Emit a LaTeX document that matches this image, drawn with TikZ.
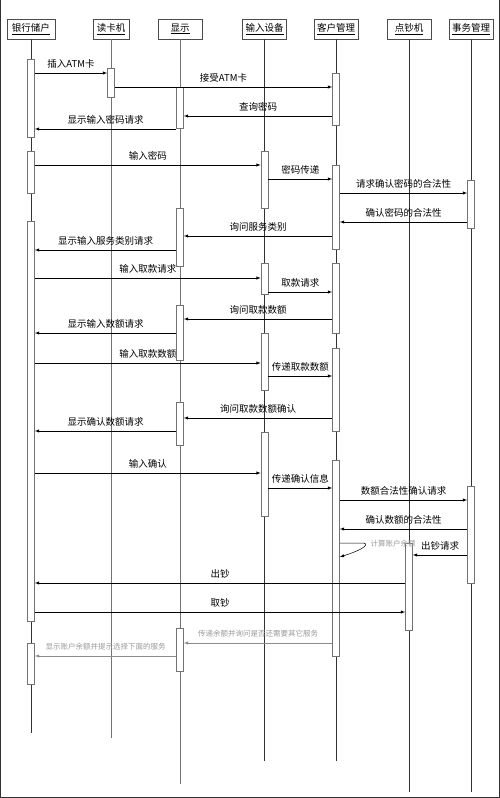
\documentclass[tikz,border=0pt]{standalone}
\usepackage{fontspec}
\setmainfont{Noto Sans CJK SC}
\usetikzlibrary{arrows}

\begin{document}
\begin{tikzpicture}[x=1pt,y=-1pt,
	actor/.style={draw=black!70,fill=white,minimum width=44,minimum height=20,inner xsep=3pt,font=\fontsize{9.5}{11}\selectfont},
	act/.style={draw=black!55,fill=white,minimum width=7,inner sep=0pt,line width=0.6pt},
	life/.style={black!80,line width=0.6pt},
	msg/.style={-latex,line width=0.5pt},
	lbl/.style={midway,above=1.5pt,font=\fontsize{9.5}{11}\selectfont},
	faint/.style={black!40,font=\fontsize{7.5}{9}\selectfont}]
	\useasboundingbox (0,0) rectangle (500,798);
	\draw[black!80,line width=1.2pt] (0.6,0) -- (0.6,797.4) -- (499.4,797.4) -- (499.4,0);

	\node[actor,minimum width=48] (cust) at (31,29) {\underline{银行储户}};
	\node[actor,minimum width=36] (reader) at (111,29) {\underline{读卡机}};
	\node[actor] (disp) at (180,29) {\underline{显示}};
	\node[actor] (input) at (264.5,29) {\underline{输入设备}};
	\node[actor] (mgr) at (336,29) {\underline{客户管理}};
	\node[actor] (cash) at (409,29) {\underline{点钞机}};
	\node[actor] (trans) at (471,29) {\underline{事务管理}};

	\draw[life] (cust) -- (cust |- 0,733);
	\draw[life,black!55] (reader) -- (reader |- 0,738);
	\draw[life,black!55] (disp) -- (disp |- 0,784);
	\draw[life] (input) -- (input |- 0,761);
	\draw[life] (mgr) -- (mgr |- 0,761);
	\draw[life] (cash) -- (cash |- 0,792);
	\draw[life] (trans) -- (trans |- 0,792);

	\node[act,minimum height=78] (c1) at (cust |- 0,98) {};
	\node[act,minimum height=42] (c2) at (cust |- 0,172) {};
	\node[act,minimum height=400] (c3) at (cust |- 0,421) {};
	\node[act,minimum height=41] (c4) at (cust |- 0,663.5) {};
	\node[act,minimum height=29] (r1) at (reader |- 0,82.5) {};
	\node[act,minimum height=41] (d1) at (disp |- 0,107.5) {};
	\node[act,minimum height=58] (d2) at (disp |- 0,237) {};
	\node[act,minimum height=55] (d3) at (disp |- 0,332.5) {};
	\node[act,minimum height=43] (d4) at (disp |- 0,423.5) {};
	\node[act,minimum height=43] (d5) at (disp |- 0,649.5) {};
	\node[act,minimum height=57] (i1) at (input |- 0,179.5) {};
	\node[act,minimum height=31] (i2) at (input |- 0,278.5) {};
	\node[act,minimum height=57] (i3) at (input |- 0,361.5) {};
	\node[act,minimum height=84] (i4) at (input |- 0,474) {};
	\node[act,minimum height=52] (m1) at (mgr |- 0,99) {};
	\node[act,minimum height=84] (m2) at (mgr |- 0,207) {};
	\node[act,minimum height=70] (m3) at (mgr |- 0,298) {};
	\node[act,minimum height=83] (m4) at (mgr |- 0,389.5) {};
	\node[act,minimum height=196] (m5) at (mgr |- 0,558) {};
	\node[act,minimum height=87] (k1) at (cash |- 0,586.5) {};
	\node[act,minimum height=48] (t1) at (trans |- 0,204) {};
	\node[act,minimum height=97] (t2) at (trans |- 0,534.5) {};

	\draw[msg] (c1.east |- 0,73) -- node[lbl] {插入ATM卡} (r1.west |- 0,73);
	\draw[msg] (r1.east |- 0,87) -- node[lbl] {接受ATM卡} (m1.west |- 0,87);
	\draw[msg] (m1.west |- 0,116) -- node[lbl] {查询密码} (d1.east |- 0,116);
	\draw[msg] (d1.west |- 0,129) -- node[lbl] {显示输入密码请求} (c1.east |- 0,129);
	\draw[msg] (c2.east |- 0,165) -- node[lbl] {输入密码} (i1.west |- 0,165);
	\draw[msg] (i1.east |- 0,179) -- node[lbl] {密码传递} (m2.west |- 0,179);
	\draw[msg] (m2.east |- 0,193) -- node[lbl] {请求确认密码的合法性} (t1.west |- 0,193);
	\draw[msg] (t1.west |- 0,222) -- node[lbl] {确认密码的合法性} (m2.east |- 0,222);
	\draw[msg] (m2.west |- 0,236) -- node[lbl] {询问服务类别} (d2.east |- 0,236);
	\draw[msg] (d2.west |- 0,250) -- node[lbl] {显示输入服务类别请求} (c3.east |- 0,250);
	\draw[msg] (c3.east |- 0,278) -- node[lbl] {输入取款请求} (i2.west |- 0,278);
	\draw[msg] (i2.east |- 0,292) -- node[lbl] {取款请求} (m3.west |- 0,292);
	\draw[msg] (m3.west |- 0,319) -- node[lbl] {询问取款数额} (d3.east |- 0,319);
	\draw[msg] (d3.west |- 0,333) -- node[lbl] {显示输入数额请求} (c3.east |- 0,333);
	\draw[msg] (c3.east |- 0,363) -- node[lbl] {输入取款数额} (i3.west |- 0,363);
	\draw[msg] (i3.east |- 0,376) -- node[lbl] {传递取款数额} (m4.west |- 0,376);
	\draw[msg] (m4.west |- 0,418) -- node[lbl] {询问取款数额确认} (d4.east |- 0,418);
	\draw[msg] (d4.west |- 0,431) -- node[lbl] {显示确认数额请求} (c3.east |- 0,431);
	\draw[msg] (c3.east |- 0,473) -- node[lbl] {输入确认} (i4.west |- 0,473);
	\draw[msg] (i4.east |- 0,488) -- node[lbl] {传递确认信息} (m5.west |- 0,488);
	\draw[msg] (m5.east |- 0,500) -- node[lbl] {数额合法性确认请求} (t2.west |- 0,500);
	\draw[msg] (t2.west |- 0,529) -- node[lbl] {确认数额的合法性} (m5.east |- 0,529);
	\draw[msg] (m5.east |- 0,543) -- (362,543) .. controls (369,543) and (368,548) .. (m5.east |- 0,557);
	\node[faint] (calc) at (393,544) {计算账户余额};
	\draw[msg] (t2.west |- 0,555) -- node[lbl] {出钞请求} (k1.east |- 0,555);
	\draw[msg] (k1.west |- 0,583) -- node[lbl] {出钞} (c3.east |- 0,583);
	\draw[msg] (c3.east |- 0,612) -- node[lbl] {取钞} (k1.west |- 0,612);
	\draw[msg,black!45] (m5.west |- 0,643) -- node[lbl,faint,above=0.5pt] {传递余额并询问是否还需要其它服务} (d5.east |- 0,643);
	\draw[msg,black!45] (d5.west |- 0,656) -- node[lbl,faint,above=0.5pt] {显示账户余额并提示选择下面的服务} (c4.east |- 0,656);
\end{tikzpicture}
\end{document}
